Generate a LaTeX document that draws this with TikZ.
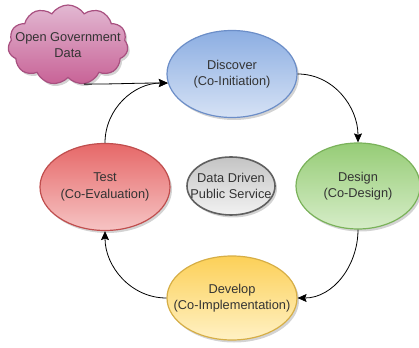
\documentclass[tikz,border=0pt]{standalone}
\usepackage{fontspec}
\setmainfont{Liberation Sans}
\usepackage{tikz}
\usetikzlibrary{shapes.geometric, shapes.symbols, shadows, arrows.meta}

\definecolor{blueTop}{RGB}{140,174,226}
\definecolor{blueBot}{RGB}{214,226,245}
\definecolor{blueLine}{RGB}{108,142,200}
\definecolor{greenTop}{RGB}{150,204,118}
\definecolor{greenBot}{RGB}{214,237,200}
\definecolor{greenLine}{RGB}{122,178,90}
\definecolor{redTop}{RGB}{230,104,104}
\definecolor{redBot}{RGB}{246,196,196}
\definecolor{redLine}{RGB}{192,78,78}
\definecolor{yellowTop}{RGB}{252,208,88}
\definecolor{yellowBot}{RGB}{255,241,196}
\definecolor{yellowLine}{RGB}{214,174,70}
\definecolor{greyTop}{RGB}{196,196,196}
\definecolor{greyBot}{RGB}{242,242,242}
\definecolor{greyLine}{RGB}{96,96,96}
\definecolor{pinkTop}{RGB}{226,184,210}
\definecolor{pinkBot}{RGB}{200,98,150}
\definecolor{pinkLine}{RGB}{168,80,128}

\begin{document}
\begin{tikzpicture}[x=1pt, y=1pt,
    phase/.style={ellipse, draw, line width=1.2pt, inner xsep=-25pt, inner ysep=-15pt,
      minimum width=130pt, minimum height=87pt, align=center, text=black!80,
      font=\fontsize{12.8}{16.5}\selectfont,
      drop shadow={opacity=0.35, shadow xshift=2pt, shadow yshift=-2.5pt}},
    link/.style={-{Stealth[length=9pt, width=8pt, inset=1.5pt]}, line width=0.8pt}]
  \useasboundingbox (0, 0) rectangle (419, 347);

  % cycle of phases
  \node[phase, top color=blueTop, bottom color=blueBot, draw=blueLine] (discover) at (232, 273) {Discover\\(Co-Initiation)};
  \node[phase, top color=greenTop, bottom color=greenBot, draw=greenLine, minimum width=124pt, minimum height=86pt] (design) at (358, 161) {Design\\(Co-Design)};
  \node[phase, top color=yellowTop, bottom color=yellowBot, draw=yellowLine, minimum height=84pt] (develop) at (232, 49) {Develop\\(Co-Implementation)};
  \node[phase, top color=redTop, bottom color=redBot, draw=redLine] (test) at (105, 160) {Test\\(Co-Evaluation)};

  % centre and source
  \node[phase, top color=greyTop, bottom color=greyBot, draw=greyLine, line width=1.6pt, minimum width=88pt, minimum height=58pt, inner xsep=-38pt] (service) at (231, 161) {Data Driven\\Public Service};
  \node[phase, cloud, cloud puffs=11, cloud puff arc=115, top color=pinkTop, bottom color=pinkBot, draw=pinkLine, minimum width=120pt, minimum height=80pt, inner xsep=-38pt, inner ysep=-20pt] (opendata) at (68, 302) {Open Government\\Data};

  \draw[link] (opendata.292) to[out=0, in=180] (discover.188);
  \draw[link] (test.north) to[out=90, in=180] (discover.188);
  \draw[link] (discover.east) to[out=0, in=90] (design.north);
  \draw[link] (design.south) to[out=-90, in=0] (develop.east);
  \draw[link] (develop.west) to[out=180, in=-90] (test.south);
\end{tikzpicture}
\end{document}
